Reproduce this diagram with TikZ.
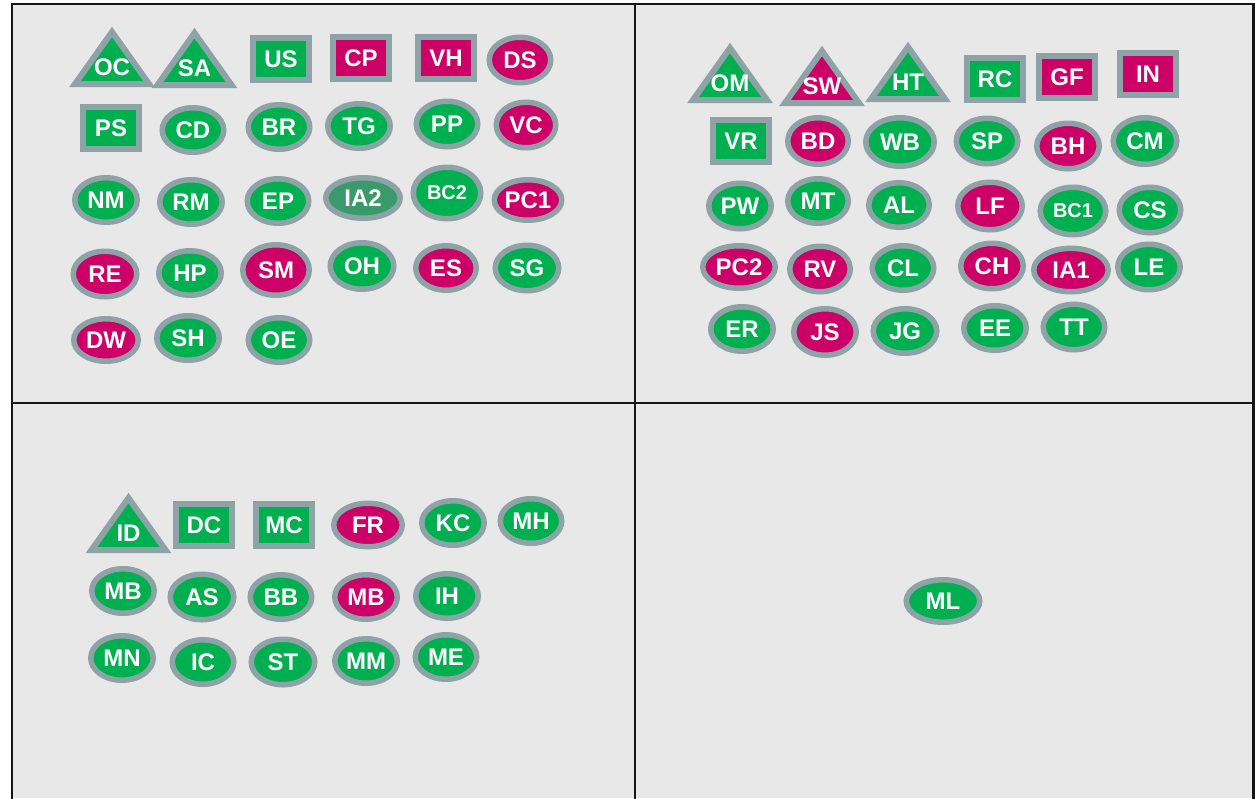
\documentclass[tikz,border=0pt]{standalone}
\usepackage{fontspec}
\setmainfont{Liberation Sans}
\usetikzlibrary{shapes.geometric}
\definecolor{panelbg}{HTML}{E8E8E8}
\definecolor{nodegreen}{HTML}{00B050}
\definecolor{nodemag}{HTML}{CC0066}
\definecolor{darkgreen}{HTML}{3A9A6C}
\definecolor{bordergray}{HTML}{8EA3A5}
\definecolor{gridblack}{HTML}{151515}
\newcommand\lbfont{\fontsize{24}{24}\selectfont\bfseries}
\newcommand\smfont{\fontsize{20}{20}\selectfont\bfseries}
\tikzset{
  lbl/.style={text=white, font=\lbfont, inner sep=0pt},
  ellnode/.style={ellipse, draw=bordergray, line width=5.5pt, inner sep=0pt, text=white, font=\lbfont},
  rectnode/.style={rectangle, draw=bordergray, line width=6pt, inner sep=0pt, minimum width=56pt, minimum height=42pt, text=white, font=\lbfont},
  tri/.style={draw=bordergray, line width=6pt, line join=miter},
  g/.style={fill=nodegreen}, m/.style={fill=nodemag}, dg/.style={fill=darkgreen},
  gridline/.style={draw=gridblack, line width=2.4pt}
}
% ellipse: name, x, y, colour, outer w, outer h, text
\newcommand\EL[7]{\node[ellnode,#4,minimum width=#5-5.5,minimum height=#6-5.5] (#1) at (#2,#3) {#7};}
% rectangle: name, x, y, colour, text
\newcommand\RC[5]{\node[rectnode,#4] (#1) at (#2,#3) {#5};}
% triangle: name, centre x, top y, colour, text
\newcommand\TR[5]{%
  \draw[tri,#4] (#2-37,#3+57) -- (#2,#3+5) -- (#2+37,#3+57) -- cycle;
  \node[lbl] (#1) at (#2,#3+40.5) {#5};}
\begin{document}
\begin{tikzpicture}[x=1pt,y=-1pt]
\useasboundingbox (0,0) rectangle (1255,798);
\fill[white] (0,0) rectangle (1255,798);
\fill[panelbg] (12,4) rectangle (1254,798);
\draw[gridline] (12,800) -- (12,4) -- (1253.6,4) -- (1253.6,800);
\draw[gridline] (635,4) -- (635,800);
\draw[gridline] (12,403) -- (1253.6,403);

% ---------- top left ----------
\TR{OC}{112}{27}{g}{OC}
\TR{SA}{194.5}{28}{g}{SA}
\RC{US}{281}{59}{g}{US}
\RC{CP}{361}{58}{m}{CP}
\RC{VH}{446}{58}{m}{VH}
\EL{DS}{520}{60}{m}{67}{51}{DS}

\RC{PS}{111}{128}{g}{PS}
\EL{CD}{193}{130}{g}{67}{50}{CD}
\EL{BR}{279}{127}{g}{67}{50}{BR}
\EL{TG}{359}{126}{g}{68}{50}{TG}
\EL{PP}{447}{124}{g}{67}{51}{PP}
\EL{VC}{526}{125}{m}{65}{51}{VC}

\EL{NM}{106}{200}{g}{68}{50}{NM}
\EL{RM}{191}{202}{g}{68}{50}{RM}
\EL{EP}{278}{201}{g}{67}{50}{EP}
\EL{IA2}{363}{198}{dg}{80}{46}{IA2}
\node[ellnode,g,minimum width=67.5,minimum height=51.5,font=\smfont] (BC2) at (447,193) {BC2};
\EL{PC1}{528}{200}{m}{73}{46}{PC1}

\EL{RE}{105}{274}{m}{69}{51}{RE}
\EL{HP}{190}{273}{g}{68}{50}{HP}
\EL{SM}{276}{270}{m}{72}{56}{SM}
\EL{OH}{362}{266}{g}{69}{52}{OH}
\EL{ES}{446}{268}{m}{66}{50}{ES}
\EL{SG}{527}{268}{g}{69}{51}{SG}

\EL{DW}{106}{340}{m}{70}{48}{DW}
\EL{SH}{188}{338}{g}{68}{50}{SH}
\EL{OE}{279}{340}{g}{67}{50}{OE}

% ---------- top right ----------
\TR{OM}{730}{43}{g}{OM}
\TR{SW}{822}{46}{m}{SW}
\TR{HT}{908}{42}{g}{HT}
\RC{RC}{995}{79}{g}{RC}
\RC{GF}{1067}{77}{m}{GF}
\RC{IN}{1148}{74}{m}{IN}

\RC{VR}{741}{141}{g}{VR}
\EL{BD}{818}{141}{m}{66}{52}{BD}
\EL{WB}{900}{142}{g}{74}{54}{WB}
\EL{SP}{987}{141}{g}{67}{51}{SP}
\EL{BH}{1068}{146}{m}{68}{51}{BH}
\EL{CM}{1145}{141}{g}{69}{52}{CM}

\EL{PW}{740}{206}{g}{68}{51}{PW}
\EL{MT}{818}{201}{g}{66}{50}{MT}
\EL{AL}{899}{205}{g}{66}{50}{AL}
\EL{LF}{990}{206}{m}{70}{53}{LF}
\node[ellnode,g,minimum width=65.5,minimum height=47.5,font=\smfont] (BC1) at (1073,211) {BC1};
\EL{CS}{1150}{210}{g}{67}{51}{CS}

\EL{PC2}{739}{267}{m}{78}{48}{PC2}
\EL{RV}{820}{269}{m}{66}{51}{RV}
\EL{CL}{903}{268}{g}{67}{50}{CL}
\EL{CH}{992}{266}{m}{68}{51}{CH}
\EL{IA1}{1071}{270}{m}{80}{49}{IA1}
\EL{LE}{1149}{267}{g}{68}{51}{LE}

\EL{ER}{742}{329}{g}{68}{50}{ER}
\EL{JS}{825}{332}{m}{68}{52}{JS}
\EL{JG}{905}{331}{g}{69}{50}{JG}
\EL{EE}{995}{328}{g}{68}{50}{EE}
\EL{TT}{1074}{327}{g}{67}{51}{TT}

% ---------- bottom left ----------
\TR{ID}{128.5}{493}{g}{ID}
\RC{DC}{204}{525}{g}{DC}
\RC{MC}{284}{525}{g}{MC}
\EL{FR}{368}{525}{m}{74}{49}{FR}
\EL{KC}{453}{523}{g}{68}{50}{KC}
\EL{MH}{531}{521}{g}{67}{50}{MH}

\EL{MBa}{123}{591}{g}{68}{50}{MB}
\EL{AS}{202}{597}{g}{69}{51}{AS}
\EL{BB}{281}{597}{g}{67}{50}{BB}
\EL{MBb}{366}{597}{m}{68}{50}{MB}
\EL{IH}{447}{596}{g}{68}{50}{IH}

\EL{MN}{122}{658}{g}{68}{50}{MN}
\EL{IC}{203}{662}{g}{67}{50}{IC}
\EL{ST}{283}{662}{g}{69}{51}{ST}
\EL{MM}{366}{661}{g}{68}{50}{MM}
\EL{ME}{446}{657}{g}{67}{50}{ME}

% ---------- bottom right ----------
\EL{ML}{943}{601}{g}{79}{48}{ML}
\end{tikzpicture}
\end{document}
